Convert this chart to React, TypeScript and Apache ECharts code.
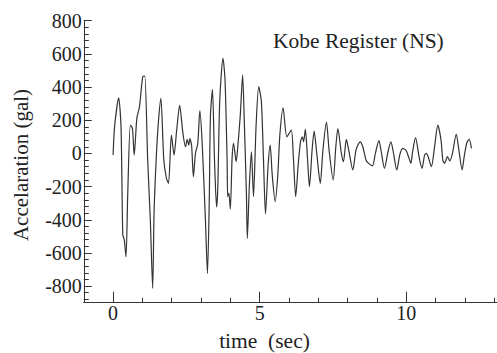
import React, { useEffect, useRef } from "react";
import * as echarts from "echarts";

const titleText = "Kobe Register (NS)";
const xName = "time  (sec)";
const yName = "Accelaration (gal)";

// time (sec)
const times = [
  0.0, 0.05, 0.19, 0.27, 0.33, 0.38, 0.44, 0.5, 0.59, 0.66, 0.72, 0.81, 0.9, 1.01, 1.08,
  1.18, 1.27, 1.35, 1.4, 1.48, 1.55, 1.63, 1.73, 1.82, 1.89, 1.99, 2.08, 2.17, 2.27, 2.38,
  2.47, 2.53, 2.58, 2.62, 2.68, 2.74, 2.81, 2.89, 2.96, 3.04, 3.15, 3.22, 3.28, 3.32, 3.39,
  3.46, 3.53, 3.57, 3.64, 3.75, 3.82, 3.89, 3.91, 3.95, 4.0, 4.06, 4.11, 4.2, 4.25, 4.34,
  4.42, 4.48, 4.55, 4.58, 4.65, 4.72, 4.79, 4.88, 4.97, 5.06, 5.13, 5.2, 5.29, 5.36, 5.43,
  5.53, 5.62, 5.69, 5.8, 5.93, 6.08, 6.15, 6.23, 6.32, 6.4, 6.46, 6.5, 6.56, 6.63, 6.7,
  6.79, 6.86, 6.95, 7.07, 7.16, 7.28, 7.37, 7.51, 7.6, 7.67, 7.79, 7.86, 7.96, 8.04, 8.18,
  8.29, 8.43, 8.52, 8.63, 8.72, 8.85, 8.95, 9.07, 9.15, 9.26, 9.38, 9.48, 9.56, 9.68, 9.78,
  9.88, 9.99, 10.1, 10.16, 10.22, 10.32, 10.44, 10.54, 10.63, 10.69, 10.75, 10.86, 10.97,
  11.08, 11.19, 11.25, 11.31, 11.41, 11.49, 11.58, 11.71, 11.8, 11.91, 11.98, 12.07, 12.15,
  12.23,
];

// acceleration (gal)
const accel = [
  -10, 160, 335, 160, -490, -520, -623, -240, 171, 150, -10, 211, 281, 462, 466,
  -40, -402, -814, -342, 0, 200, 332, -40, -150, -181, 111, -10, 141, 290, 125,
  40, 85, 50, 90, 45, -141, 0, 60, 258, 60, -402, -724, -300, 221, 386,
  -40, -322, -220, 322, 573, 440, -40, -260, -240, -335, -30, 60, -50, 30, 231,
  472, 171, -251, -513, -191, 10, -260, 171, 402, 311, -30, -365, -70, 50, -130,
  -291, -130, 111, 275, 100, 141, -20, -261, -60, 75, 100, 70, 145, -20, -200,
  20, 135, 0, -181, 20, 188, 20, -161, 40, 150, 0, -50, 85, 20, -100,
  20, 70, 40, -40, -60, -75, 0, 77, 10, -90, 10, 70, 10, -100, -10,
  30, 20, -30, -60, 10, 95, -20, -90, -10, 0, -20, -80, 40,
  171, 80, -40, -60, -20, -45, 0, 117, 20, -100, -20, 64, 85,
  30,
];

const FONT = "Liberation Serif";
const INK = "#222";

const labelRich = {
  n: { fontFamily: FONT, fontSize: 20, color: INK },
};

export default function App() {
  const ref = useRef<HTMLDivElement>(null);

  useEffect(() => {
    if (!ref.current) return;
    const chart = echarts.init(ref.current, undefined, { renderer: "svg" });
    const data = times.map((t, i) => [t, accel[i]]);
    chart.setOption({
      animation: false,
      backgroundColor: "#ffffff",
      textStyle: { fontFamily: FONT },
      grid: { left: 83.8, top: 20.7, width: 416, height: 282, containLabel: false },
      title: {
        text: titleText,
        left: 273,
        top: 30,
        padding: 0,
        textStyle: { fontFamily: FONT, fontSize: 21.5, fontWeight: "normal", color: INK },
      },
      graphic: [
        {
          type: "text",
          x: 264.5,
          y: 341,
          style: {
            text: xName,
            fontFamily: FONT,
            fontSize: 21.5,
            fill: INK,
            textAlign: "center",
            textVerticalAlign: "middle",
          },
        },
        {
          type: "text",
          x: 21,
          y: 165,
          rotation: Math.PI / 2,
          style: {
            text: yName,
            fontFamily: FONT,
            fontSize: 21,
            fill: INK,
            textAlign: "center",
            textVerticalAlign: "middle",
          },
        },
      ],
      xAxis: {
        type: "value",
        min: -1,
        max: 13.1,
        splitNumber: 3,
        minInterval: 5,
        maxInterval: 5,
        axisLine: { show: true, onZero: false, lineStyle: { color: "#333", width: 1 } },
        axisTick: { show: true, inside: true, length: 11, lineStyle: { color: "#333" } },
        minorTick: { show: true, splitNumber: 5, length: 5, lineStyle: { color: "#333" } },
        splitLine: { show: false },
        minorSplitLine: { show: false },
        axisLabel: {
          showMinLabel: false,
          showMaxLabel: false,
          margin: 0,
          fontFamily: FONT,
          fontSize: 20,
          color: INK,
          formatter: (v: number) => `{n|${v}}`,
          rich: labelRich,
        },
      },
      yAxis: {
        type: "value",
        min: -900,
        max: 800,
        splitNumber: 8,
        minInterval: 200,
        maxInterval: 200,
        axisLine: { show: true, onZero: false, lineStyle: { color: "#333", width: 1 } },
        axisTick: { show: true, inside: true, length: 8, lineStyle: { color: "#333" } },
        minorTick: { show: true, splitNumber: 5, length: 5, lineStyle: { color: "#333" } },
        splitLine: { show: false },
        minorSplitLine: { show: false },
        axisLabel: {
          showMinLabel: false,
          margin: 2,
          fontFamily: FONT,
          fontSize: 20,
          color: INK,
          formatter: (v: number) => `{n|${v}}`,
          rich: labelRich,
        },
      },
      series: [
        {
          type: "line",
          data,
          smooth: 0.25,
          showSymbol: false,
          symbol: "none",
          lineStyle: { color: "#333", width: 1.2 },
        },
      ],
    });
    return () => chart.dispose();
  }, []);

  return (
    <div
      ref={ref}
      style={{ position: "fixed", left: 0, top: 0, width: 497, height: 353, background: "#fff" }}
    />
  );
}
